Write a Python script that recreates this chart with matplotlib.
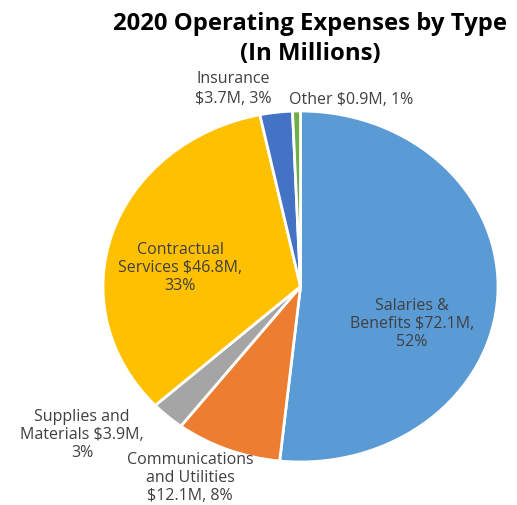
import matplotlib
matplotlib.use("Agg")
import matplotlib.pyplot as plt

# data (clockwise from 12 o'clock)
categories = ["Salaries & Benefits", "Communications and Utilities", "Supplies and Materials",
              "Contractual Services", "Insurance", "Other"]
values = [72.1, 12.1, 3.9, 46.8, 3.7, 0.9]
pct_labels = ["52%", "8%", "3%", "33%", "3%", "1%"]
label_texts = [
    "Salaries &\nBenefits $72.1M,\n52%",
    "Communications\nand Utilities\n$12.1M, 8%",
    "Supplies and\nMaterials $3.9M,\n3%",
    "Contractual\nServices $46.8M,\n33%",
    "Insurance\n$3.7M, 3%",
    "Other $0.9M, 1%",
]
colors = ["#5B9BD5", "#ED7D31", "#A5A5A5", "#FFC000", "#4472C4", "#70AD47"]

W, H = 517, 506
fig = plt.figure(figsize=(W / 100, H / 100), dpi=100)

# the pie in the reference is slightly stretched, so the axes box is the ellipse bbox
left, top, right, bottom = 103, 112, 498, 463
ax = fig.add_axes([left / W, 1 - bottom / H, (right - left) / W, (bottom - top) / H])
ax.pie(values, colors=colors, startangle=90, counterclock=False,
       wedgeprops=dict(edgecolor="white", linewidth=2))
ax.set_aspect("auto")
ax.set_xlim(-1, 1)
ax.set_ylim(-1, 1)

# label centres in pixel coords of the figure
label_pos = [(412, 324), (190, 478), (82, 435), (180, 268), (233, 89), (351, 100)]
spacing = [1.15, 1.15, 1.15, 1.15, 1.4, 1.15]
for txt, (px, py), ls in zip(label_texts, label_pos, spacing):
    fig.text(px / W, 1 - py / H, txt, ha="center", va="center", fontsize=11.5,
             color="#404040", family="Open Sans", linespacing=ls)

fig.text(310 / W, 1 - 39 / H, "2020 Operating Expenses by Type\n(In Millions)",
         ha="center", va="center", fontsize=17.2, fontweight="bold",
         family="Open Sans", color="black", linespacing=1.3)

fig.savefig("out.png", dpi=100)
